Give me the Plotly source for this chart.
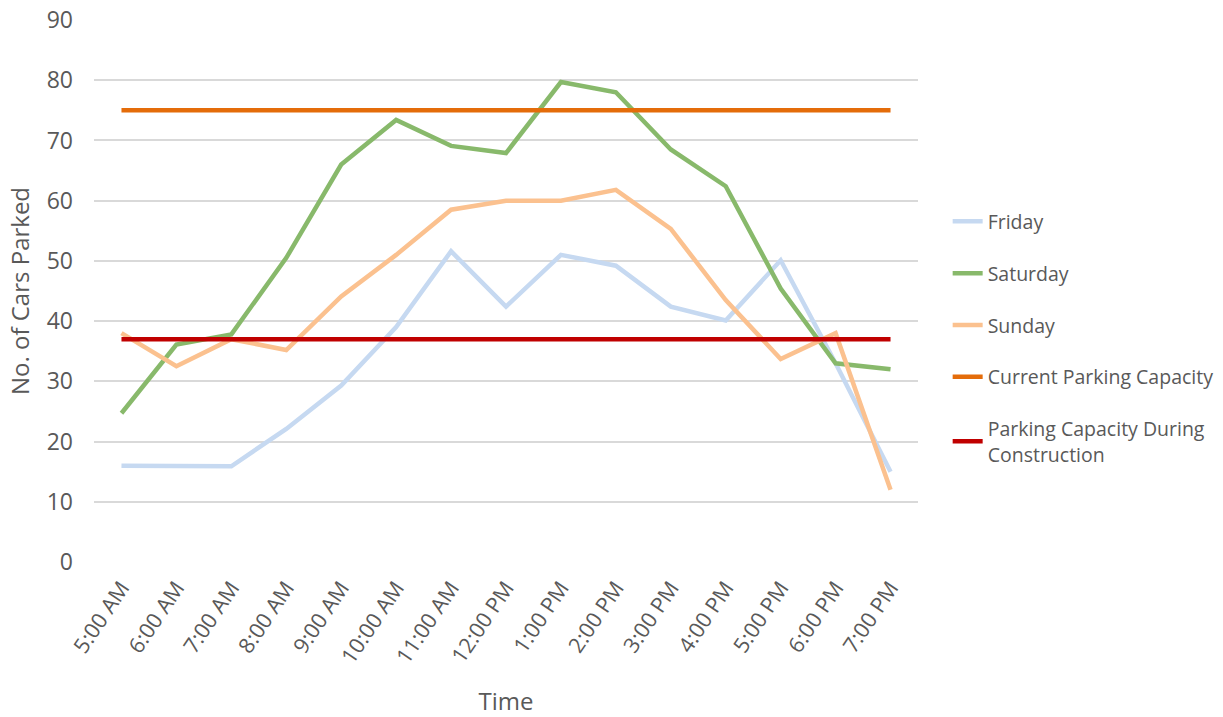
import plotly.graph_objects as go

times = ["5:00 AM", "6:00 AM", "7:00 AM", "8:00 AM", "9:00 AM", "10:00 AM", "11:00 AM",
         "12:00 PM", "1:00 PM", "2:00 PM", "3:00 PM", "4:00 PM", "5:00 PM", "6:00 PM", "7:00 PM"]

friday = [16, 16, 15.9, 22.1, 29.3, 39, 51.6, 42.4, 51, 49.2, 42.4, 40.1, 50.1, 33, 15]
saturday = [24.7, 36.1, 37.8, 50.5, 66, 73.4, 69.1, 67.9, 79.7, 78, 68.5, 62.4, 45.4, 33, 32]
sunday = [38, 32.5, 37, 35.2, 44.1, 51, 58.5, 60, 60, 61.8, 55.3, 43.5, 33.7, 38, 12]
current_capacity = [75] * len(times)
construction_capacity = [37] * len(times)

series = [
    ("Friday", friday, "#c6d9f1"),
    ("Saturday", saturday, "#88b96b"),
    ("Sunday", sunday, "#fbc18f"),
    ("Current Parking Capacity", current_capacity, "#e46c0a"),
    ("Parking Capacity During<br>Construction", construction_capacity, "#c00000"),
]

font_family = "Open Sans, Segoe UI, sans-serif"
text_color = "#595959"

fig = go.Figure()
for i, (name, values, color) in enumerate(series):
    fig.add_trace(go.Scatter(
        x=times, y=values, name=name, mode="lines",
        line=dict(color=color, width=4.5),
        legendgroup=f"g{i}",
    ))

fig.update_layout(
    width=1223, height=717,
    margin=dict(l=94, r=305, t=20, b=155, autoexpand=False),
    paper_bgcolor="white", plot_bgcolor="white",
    font=dict(family=font_family, color=text_color),
    legend=dict(
        x=1.036, xanchor="left", y=0.664, yanchor="top",
        font=dict(size=19.5, color=text_color),
        tracegroupgap=23.5,
        bgcolor="rgba(0,0,0,0)",
    ),
    xaxis=dict(
        type="category",
        range=[-0.5, len(times) - 0.5],
        tickangle=-56,
        tickfont=dict(size=21.5, color=text_color),
        ticklabelstandoff=8,
        automargin=False,
        showgrid=False, zeroline=False, showline=False,
        title=dict(text="Time", font=dict(size=24, color=text_color), standoff=30),
    ),
    yaxis=dict(
        range=[0, 90], dtick=10,
        tickfont=dict(size=23, color=text_color),
        gridcolor="#d9d9d9", gridwidth=1.5,
        zeroline=False, showline=False,
        ticklabelstandoff=20,
        automargin=False,
        title=dict(text="No. of Cars Parked", font=dict(size=24, color=text_color), standoff=10),
    ),
)

fig.write_html("out.html")
